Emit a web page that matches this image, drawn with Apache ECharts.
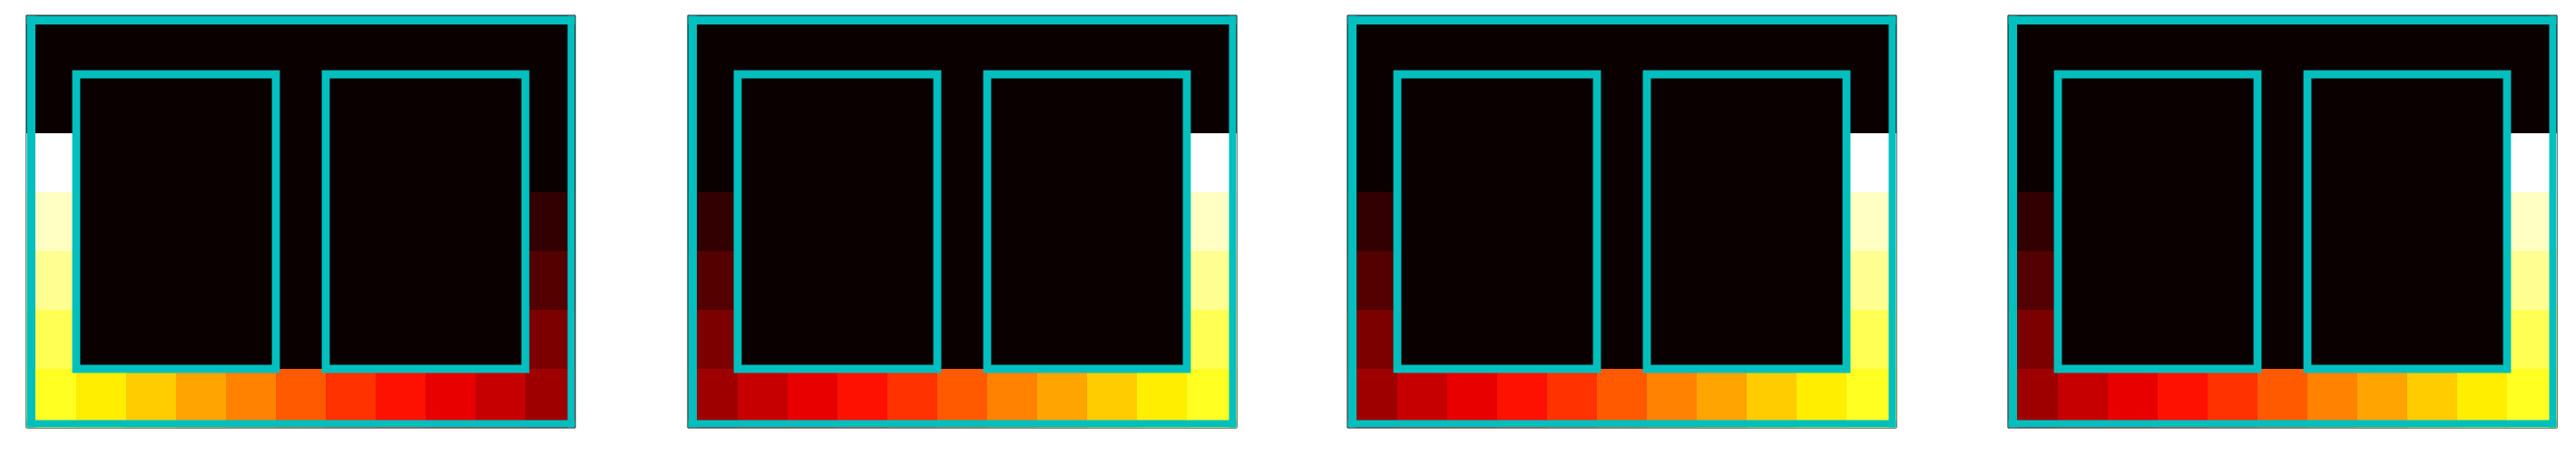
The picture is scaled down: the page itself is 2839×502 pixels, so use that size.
<!DOCTYPE html>
<html>
<head>
<meta charset="utf-8">
<script src="https://cdn.jsdelivr.net/npm/echarts@6/dist/echarts.min.js"></script>
<style>
html,body{margin:0;padding:0;background:#fff;}
#chart{width:2839px;height:502px;}
</style>
</head>
<body>
<div id="chart"></div>
<script>
// ---- data ----
const xCats = ['0','1','2','3','4','5','6','7','8','9','10'];
const yCats = ['0','1','2','3','4','5','6'];   // row 0 at top

// panel 1: hot edge on the left
const p1LeftCol   = [0, 0, 1.00, 0.94, 0.89, 0.83, 0.78];
const p1BottomRow = [0.78, 0.72, 0.67, 0.61, 0.56, 0.50, 0.44, 0.39, 0.33, 0.28, 0.22];
const p1RightCol  = [0, 0, 0, 0.06, 0.11, 0.17, 0.22];

// panels 2-4: hot edge on the right
const p2LeftCol   = [0, 0, 0, 0.06, 0.11, 0.17, 0.22];
const p2BottomRow = [0.22, 0.28, 0.33, 0.39, 0.44, 0.50, 0.56, 0.61, 0.67, 0.72, 0.78];
const p2RightCol  = [0, 0, 1.00, 0.94, 0.89, 0.83, 0.78];

const panelLeftCols   = [p1LeftCol, p2LeftCol, p2LeftCol, p2LeftCol];
const panelBottomRows = [p1BottomRow, p2BottomRow, p2BottomRow, p2BottomRow];
const panelRightCols  = [p1RightCol, p2RightCol, p2RightCol, p2RightCol];

// cyan boxes (inclusive cell ranges): outer frame + two inner boxes
const boxColStart = [0, 1, 6];
const boxColEnd   = [10, 4, 9];
const boxRowStart = [0, 1, 1];
const boxRowEnd   = [6, 5, 5];
const boxIsFrame  = [1, 0, 0];

// ---- layout / style ----
const gridLefts = [29, 758, 1485, 2213];
const gridTop = 17, gridW = 605, gridH = 455;
const CYAN = '#00bfbf';

function hot(t){
  const r = Math.min(1, 0.0416 + 0.9584 * t / 0.365079);
  const g = Math.max(0, Math.min(1, (t - 0.365079) / (0.746032 - 0.365079)));
  const b = Math.max(0, Math.min(1, (t - 0.746032) / (1 - 0.746032)));
  const h = v => Math.round(v * 255).toString(16).padStart(2, '0');
  return '#' + h(r) + h(g) + h(b);
}
const hotStops = [];
for (let i = 0; i <= 200; i++) hotStops.push(hot(i / 200));

function buildGrid(leftCol, bottomRow, rightCol){
  const out = [];
  const nx = xCats.length, ny = yCats.length;
  for (let y = 0; y < ny; y++){
    for (let x = 0; x < nx; x++){
      let v = 0;
      if (y === ny - 1) v = bottomRow[x];
      else if (x === 0) v = leftCol[y];
      else if (x === nx - 1) v = rightCol[y];
      out.push([x, y, v]);
    }
  }
  return out;
}

const boxData = boxColStart.map((c, i) => [c, boxRowStart[i], boxColEnd[i], boxRowEnd[i], boxIsFrame[i]]);

function renderCell(params, api){
  const p = api.coord([api.value(0), api.value(1)]);
  const sz = api.size([1, 1]);
  const x = Math.round(p[0] - sz[0] / 2), y = Math.round(p[1] - sz[1] / 2);
  const w = Math.round(p[0] + sz[0] / 2) - x, h = Math.round(p[1] + sz[1] / 2) - y;
  return {
    type: 'rect',
    shape: {x: x, y: y, width: w, height: h},
    style: {fill: api.visual('color')},
    z2: 0
  };
}

function renderBox(params, api){
  const c0 = api.value(0), r0 = api.value(1), c1 = api.value(2), r1 = api.value(3), frame = api.value(4);
  const pA = api.coord([c0, r0]);
  const pB = api.coord([c1, r1]);
  const sz = api.size([1, 1]);
  const x0 = Math.min(pA[0], pB[0]) - sz[0] / 2;
  const x1 = Math.max(pA[0], pB[0]) + sz[0] / 2;
  const y0 = Math.min(pA[1], pB[1]) - sz[1] / 2;
  const y1 = Math.max(pA[1], pB[1]) + sz[1] / 2;
  if (frame){
    const tl = 9.5, br = 8, e = 0.5;
    const st = {fill: CYAN};
    return {
      type: 'group',
      children: [
        {type: 'rect', shape: {x: x0 + e, y: y0 + e, width: x1 - x0 - 2 * e, height: tl}, style: st, z2: 10},
        {type: 'rect', shape: {x: x0 + e, y: y1 - e - br, width: x1 - x0 - 2 * e, height: br}, style: st, z2: 10},
        {type: 'rect', shape: {x: x0 + e, y: y0 + e, width: tl, height: y1 - y0 - 2 * e}, style: st, z2: 10},
        {type: 'rect', shape: {x: x1 - e - br, y: y0 + e, width: br, height: y1 - y0 - 2 * e}, style: st, z2: 10}
      ]
    };
  }
  return {
    type: 'rect',
    shape: {x: x0, y: y0, width: x1 - x0, height: y1 - y0},
    style: {fill: null, stroke: CYAN, lineWidth: 8.8, lineJoin: 'miter'},
    z2: 10
  };
}

const grids = [], xAxes = [], yAxes = [], series = [];
gridLefts.forEach((l, i) => {
  grids.push({left: l, top: gridTop, width: gridW, height: gridH, show: true,
              borderColor: '#000', borderWidth: 1, backgroundColor: 'transparent', containLabel: false});
  xAxes.push({type: 'category', data: xCats, gridIndex: i, show: false});
  yAxes.push({type: 'category', data: yCats, gridIndex: i, inverse: true, show: false});
  series.push({
    type: 'custom', xAxisIndex: i, yAxisIndex: i,
    data: buildGrid(panelLeftCols[i], panelBottomRows[i], panelRightCols[i]),
    renderItem: renderCell, silent: true, animation: false, z: 1
  });
});
gridLefts.forEach((l, i) => {
  series.push({
    type: 'custom', xAxisIndex: i, yAxisIndex: i, data: boxData,
    renderItem: renderBox, silent: true, animation: false, z: 5, zlevel: 1, clip: false
  });
});

const chart = echarts.init(document.getElementById('chart'), null, {renderer: 'canvas'});
chart.setOption({
  animation: false,
  backgroundColor: '#ffffff',
  grid: grids,
  xAxis: xAxes,
  yAxis: yAxes,
  visualMap: {
    type: 'continuous', min: 0, max: 1, show: false, dimension: 2,
    seriesIndex: [0, 1, 2, 3],
    inRange: {color: hotStops}
  },
  series: series
});
</script>
</body>
</html>
